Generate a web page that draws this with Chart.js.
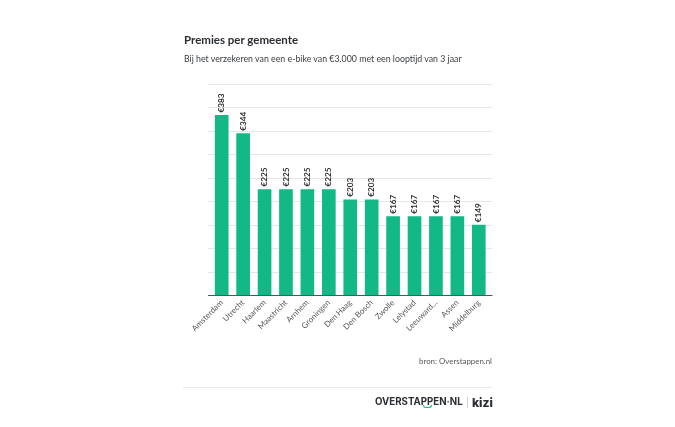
<!DOCTYPE html>
<html>
<head>
<meta charset="utf-8">
<script src="https://cdn.jsdelivr.net/npm/chart.js@4"></script>
<style>
  html, body { margin: 0; padding: 0; background: #fff; }
  #wrap { position: relative; width: 675px; height: 427px; overflow: hidden; font-family: Lato, sans-serif; }
  #wrap div { position: absolute; white-space: nowrap; }
  canvas { position: absolute; left: 0; top: 0; }
  #title { left: 184px; top: 33px; font-size: 11.5px; font-weight: 700; color: #2b2f33; }
  #subtitle { left: 184px; top: 53px; font-size: 8.8px; color: #3a3e42; }
  #source { right: 183px; top: 356px; font-size: 7.9px; color: #55595d; }
  #rule { left: 183px; top: 387px; width: 309px; height: 1px; background: #e8e8e8; }
  #logo1 { left: 375px; top: 396px; font-family: Inter, sans-serif; font-size: 9.7px; font-weight: 700; color: #2b2f33; }
  #smile { left: 423px; top: 405px; width: 7px; height: 2px; border: 1px solid #12b886; border-top: none; border-radius: 0 0 5px 5px; }
  #sep { left: 467px; top: 397px; width: 1px; height: 11px; background: #cfcfcf; }
  #logo2 { left: 472px; top: 395px; font-family: Inter, sans-serif; font-size: 12px; font-weight: 800; color: #2b2f33; }
</style>
</head>
<body>
<div id="wrap">
  <canvas id="chart" width="675" height="427"></canvas>
  <div id="title">Premies per gemeente</div>
  <div id="subtitle">Bij het verzekeren van een e-bike van €3.000 met een looptijd van 3 jaar</div>
  <div id="source">bron: Overstappen.nl</div>
  <div id="rule"></div>
  <div id="logo1">OVERSTAPPEN·NL</div>
  <div id="smile"></div>
  <div id="sep"></div>
  <div id="logo2">kizi</div>
</div>
<script>
const categories = ["Amsterdam", "Utrecht", "Haarlem", "Maastricht", "Arnhem", "Groningen", "Den Haag", "Den Bosch", "Zwolle", "Lelystad", "Leeuward...", "Assen", "Middelburg"];
const premies = [383, 344, 225, 225, 225, 225, 203, 203, 167, 167, 167, 167, 149];

// grid lines stick out a little past the bars, so draw them ourselves
const gridPlugin = {
  id: "grid",
  beforeDatasetsDraw(chart) {
    const { ctx, chartArea, scales } = chart;
    ctx.save();
    scales.y.ticks.forEach((t) => {
      const y = Math.round(scales.y.getPixelForValue(t.value)) + 0.5;
      ctx.strokeStyle = t.value === 0 ? "#555" : "#e6e6e6";
      ctx.lineWidth = 1;
      ctx.beginPath();
      ctx.moveTo(chartArea.left - 3, y);
      ctx.lineTo(chartArea.right + 3, y);
      ctx.stroke();
    });
    ctx.restore();
  },
};

// rotated value labels above bars
const valuePlugin = {
  id: "values",
  afterDatasetsDraw(chart) {
    const { ctx } = chart;
    chart.getDatasetMeta(0).data.forEach((bar, i) => {
      ctx.save();
      ctx.translate(bar.x, bar.y - 3);
      ctx.rotate(-Math.PI / 2);
      ctx.font = "700 8.2px Lato, sans-serif";
      ctx.fillStyle = "#2b2f33";
      ctx.textAlign = "left";
      ctx.textBaseline = "middle";
      ctx.fillText("€" + premies[i], 0, 0);
      ctx.restore();
    });
  },
};

new Chart(document.getElementById("chart").getContext("2d"), {
  type: "bar",
  data: {
    labels: categories,
    datasets: [{ data: premies, backgroundColor: "#12b886", barThickness: 13 }],
  },
  options: {
    responsive: false,
    animation: false,
    layout: { padding: { left: 211, right: 185.5, top: 84, bottom: 0 } },
    plugins: { legend: { display: false }, tooltip: { enabled: false } },
    scales: {
      x: {
        grid: { display: false },
        border: { display: false },
        afterFit: (s) => { s.height = 132; },
        ticks: {
          autoSkip: false,
          minRotation: 45,
          maxRotation: 45,
          padding: -5,
          color: "#55595d",
          font: { family: "Lato, sans-serif", size: 8 },
        },
      },
      y: {
        display: true,
        min: 0,
        max: 450,
        grid: { display: false },
        border: { display: false },
        afterFit: (s) => { s.width = 0; },
        ticks: { display: false, stepSize: 50 },
      },
    },
  },
  plugins: [gridPlugin, valuePlugin],
});
</script>
</body>
</html>
